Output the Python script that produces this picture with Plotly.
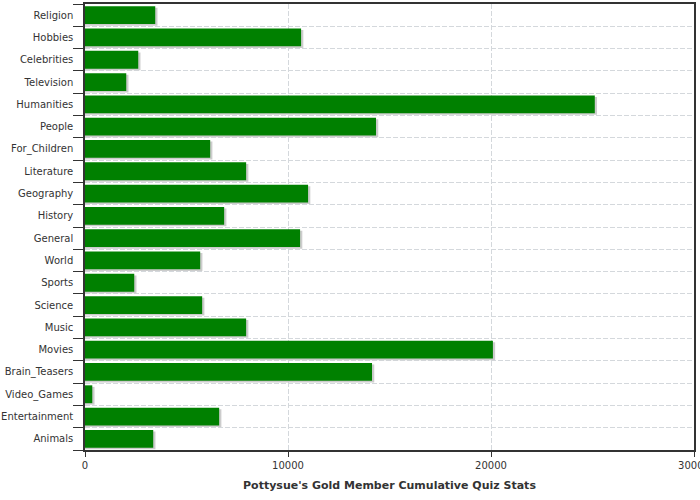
import plotly.graph_objects as go

categories = ["Religion", "Hobbies", "Celebrities", "Television", "Humanities", "People",
              "For_Children", "Literature", "Geography", "History", "General", "World",
              "Sports", "Science", "Music", "Movies", "Brain_Teasers", "Video_Games",
              "Entertainment", "Animals"]
values = [3460, 10645, 2623, 2032, 25113, 14336, 6166, 7938, 10989, 6855, 10595, 5674,
          2426, 5772, 7938, 20094, 14139, 359, 6609, 3361]

# plot bottom-to-top
cats = categories[::-1]
vals = values[::-1]
shadow_vals = [v + 110 for v in vals]

fig = go.Figure()
fig.add_trace(go.Bar(y=cats, x=shadow_vals, orientation="h", width=0.8, offset=-0.47,
                     marker=dict(color="#cccccc", line=dict(width=0)),
                     hoverinfo="skip", showlegend=False))
fig.add_trace(go.Bar(y=cats, x=vals, orientation="h", width=0.8, offset=-0.4,
                     marker=dict(color="#008000", line=dict(width=0)),
                     showlegend=False))

fig.update_layout(
    width=700, height=500,
    margin=dict(l=85, r=6, t=4, b=50),
    barmode="overlay",
    plot_bgcolor="white", paper_bgcolor="white",
    font=dict(family="DejaVu Sans", size=10, color="#333"),
)
fig.update_xaxes(
    range=[0, 30000], tickvals=[0, 10000, 20000, 30000], ticktext=["0", "10000", "20000", "30000"],
    showline=True, linecolor="#333", linewidth=1.5, mirror=True,
    ticks="outside", ticklen=5, tickcolor="#333",
    showgrid=True, gridcolor="#d4d8dc", griddash="5px,2px", gridwidth=1,
    zeroline=False, ticklabeloverflow="allow", automargin=False,
    tickfont=dict(size=10, color="#333"),
    title=dict(text="<b>Pottysue's Gold Member Cumulative Quiz Stats</b>",
               font=dict(size=11, color="#333"), standoff=12),
)
fig.update_yaxes(
    categoryorder="array", categoryarray=cats,
    showline=True, linecolor="#333", linewidth=1.5, mirror=True,
    ticks="outside", ticklen=10, tickcolor="#333", tickson="boundaries",
    showgrid=True, gridcolor="#d4d8dc", griddash="5px,2px", gridwidth=1,
    tickfont=dict(size=10, color="#333"), ticklabelstandoff=8, automargin=False,
    range=[-0.5, len(cats) - 0.5],
)

fig.write_html("out.html")
